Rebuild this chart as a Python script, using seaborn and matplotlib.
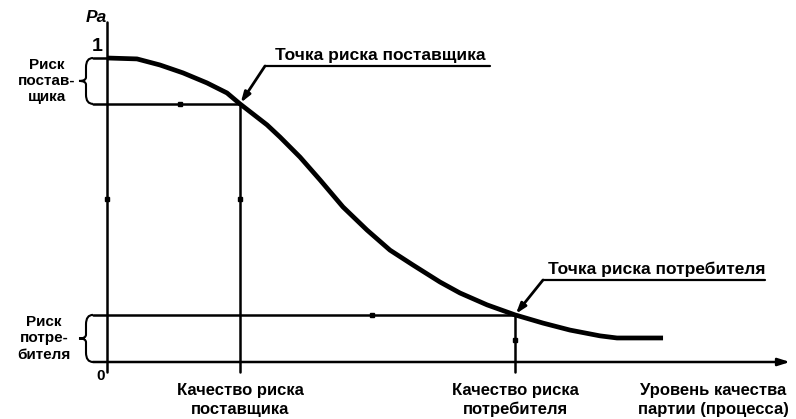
import numpy as np
import pandas as pd
import matplotlib
matplotlib.use("Agg")
import matplotlib.pyplot as plt
import seaborn as sns
from matplotlib.path import Path
from matplotlib.patches import PathPatch

# ---------------- data ----------------
quality = [0.0, 0.439, 0.776, 1.113, 1.464, 1.757, 1.947, 2.343, 2.533, 2.826,
           3.119, 3.455, 3.807, 4.143, 4.480, 4.876, 5.168, 5.564, 5.974,
           6.384, 6.779, 7.218, 7.467, 8.141]
pa = [1.0, 0.997, 0.977, 0.951, 0.918, 0.885, 0.849, 0.780, 0.740, 0.674,
      0.599, 0.510, 0.434, 0.368, 0.319, 0.263, 0.227, 0.188, 0.155,
      0.128, 0.105, 0.086, 0.079, 0.079]
supplier_q, supplier_pa = 1.947, 0.849
consumer_q, consumer_pa = 5.974, 0.155
x_axis_end = 10.0

lbl_pa = "Pa"
lbl_one = "1"
lbl_zero = "0"
lbl_supplier_risk = "Риск\nпостав-\nщика"
lbl_consumer_risk = "Риск\nпотре-\nбителя"
lbl_supplier_point = "Точка риска поставщика"
lbl_consumer_point = "Точка риска потребителя"
lbl_supplier_quality = "Качество риска\nпоставщика"
lbl_consumer_quality = "Качество риска\nпотребителя"
lbl_xaxis = "Уровень качества\nпартии (процесса)"

# ---------------- figure ----------------
sns.set_style("white")
plt.rcParams['font.family'] = ['Liberation Sans', 'DejaVu Sans']

W, H = 796, 419
fig = plt.figure(figsize=(W / 100, H / 100), dpi=100)
ax = fig.add_axes([0, 0, 1, 1])
ax.set_axis_off()

# layout helper: pixel units to data units (layout only)
X0, XS = 107, 68.3
Y0, YS = 362, 304
def dx(px):
    return (px - X0) / XS
def dy(py):
    return (Y0 - py) / YS

ax.set_xlim(dx(0), dx(W))
ax.set_ylim(dy(H), dy(0))

k = 'black'
df = pd.DataFrame({"q": quality, "pa": pa})
sns.lineplot(data=df, x="q", y="pa", ax=ax, color=k, lw=3.4, sort=False,
             solid_capstyle='butt', solid_joinstyle='round')

lw = 1.8
# axes with arrows
ax.annotate("", xy=(x_axis_end, 0), xytext=(dx(93), 0),
            arrowprops=dict(arrowstyle="-|>,head_length=0.7,head_width=0.22",
                            color=k, lw=lw, shrinkA=0, shrinkB=0))
ax.plot([0, 0], [dy(372), dy(22)], color=k, lw=lw)

# risk lines
ax.plot([dx(93), supplier_q], [supplier_pa, supplier_pa], color=k, lw=lw)
ax.plot([supplier_q, supplier_q], [dy(372), supplier_pa], color=k, lw=lw)
ax.plot([dx(93), consumer_q], [consumer_pa, consumer_pa], color=k, lw=lw)
ax.plot([consumer_q, consumer_q], [dy(372), consumer_pa], color=k, lw=lw)
ax.plot([dx(93), 0], [pa[0], pa[0]], color=k, lw=lw)

# small marks on lines
ax.plot([supplier_q * 0.55, 0, supplier_q, consumer_q * 0.65, consumer_q],
        [supplier_pa, supplier_pa * 0.63, supplier_pa * 0.63, consumer_pa, consumer_pa * 0.46],
        ls='none', marker='s', ms=3.5, color=k)

# braces
def brace(y_top, y_bot):
    xr, xm, xt = dx(93), dx(86), dx(79)
    ym = (y_top + y_bot) / 2
    h = (y_top - y_bot)
    verts = [(xr, y_top), (xm, y_top), (xm, y_top - 0.2 * h),
             (xm, ym + 0.08 * h), (xm, ym), (xt, ym),
             (xm, ym), (xm, ym - 0.08 * h),
             (xm, y_bot + 0.2 * h), (xm, y_bot), (xr, y_bot)]
    codes = [Path.MOVETO, Path.CURVE3, Path.CURVE3, Path.LINETO,
             Path.CURVE3, Path.CURVE3, Path.CURVE3, Path.CURVE3,
             Path.LINETO, Path.CURVE3, Path.CURVE3]
    ax.add_patch(PathPatch(Path(verts, codes), fc='none', ec=k, lw=1.5))

brace(pa[0], supplier_pa)
brace(consumer_pa, 0)

fs = 12
tk = dict(color=k, fontweight='bold')
ax.text(dx(47), (pa[0] + supplier_pa) / 2, lbl_supplier_risk, ha='center', va='center',
        fontsize=11, linespacing=1.2, **tk)
ax.text(dx(44), consumer_pa / 2, lbl_consumer_risk, ha='center', va='center',
        fontsize=11, linespacing=1.2, **tk)
ax.text(dx(97), dy(46), lbl_one, ha='center', va='center', fontsize=14, **tk)
ax.text(dx(101), dy(376), lbl_zero, ha='center', va='center', fontsize=11, **tk)
ax.text(dx(96), dy(17), lbl_pa, ha='center', va='center', fontsize=12.5,
        fontstyle='italic', **tk)

ax.text(supplier_q, dy(400), lbl_supplier_quality, ha='center', va='center',
        fontsize=fs, linespacing=1.35, **tk)
ax.text(consumer_q, dy(400), lbl_consumer_quality, ha='center', va='center',
        fontsize=fs, linespacing=1.35, **tk)
ax.text(dx(713), dy(400), lbl_xaxis, ha='center', va='center',
        fontsize=fs, linespacing=1.35, **tk)

# point callouts
def callout(text, px_l, px_r, py_line, target):
    ax.plot([dx(px_l), dx(px_r)], [dy(py_line), dy(py_line)], color=k, lw=1.6)
    ax.text(dx((px_l + px_r) / 2 + 3), dy(py_line - 3), text, ha='center', va='bottom',
            fontsize=12.5, **tk)
    ax.annotate("", xy=target, xytext=(dx(px_l), dy(py_line)),
                arrowprops=dict(arrowstyle="-|>,head_length=0.6,head_width=0.2",
                                color=k, lw=2.0, shrinkA=0, shrinkB=1))

callout(lbl_supplier_point, 265, 490, 66, (supplier_q, supplier_pa))
callout(lbl_consumer_point, 543, 765, 280, (consumer_q, consumer_pa))

fig.savefig("out.png", dpi=100)
